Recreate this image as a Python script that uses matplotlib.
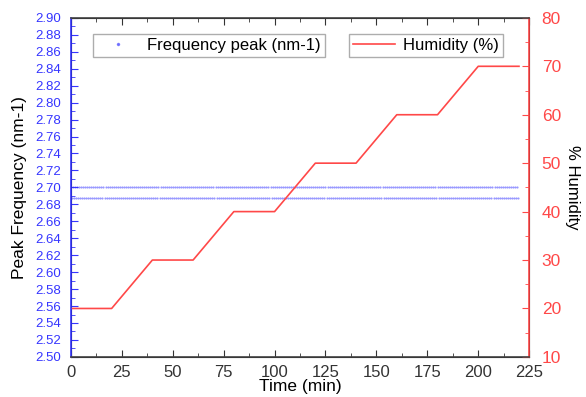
import matplotlib
matplotlib.use('Agg')
import matplotlib.pyplot as plt
import numpy as np
from matplotlib.ticker import MultipleLocator, FormatStrFormatter

# Humidity steps (min, %)
hum_time = [0, 20, 40, 60, 80, 100, 120, 140, 160, 180, 200, 220]
hum_val = [20, 20, 30, 30, 40, 40, 50, 50, 60, 60, 70, 70]

# Frequency peak sampled along the run, two levels it jumps between
peak_time = np.arange(0, 220, 1.0)
peak_upper = 2.700
peak_lower = 2.687

blue = '#3535ff'
red = '#ff4848'

plt.rcParams['font.family'] = ['Liberation Sans', 'DejaVu Sans']

fig = plt.figure(figsize=(5.86, 3.97), dpi=100)
ax = fig.add_axes([0.121, 0.101, 0.782, 0.854])
ax2 = ax.twinx()

f1 = ax.plot(peak_time, np.full(len(peak_time), peak_upper), linestyle='none',
             marker='.', markersize=1.0, color=blue, alpha=0.55,
             label='Frequency peak (nm-1)')
ax.plot(peak_time + 0.5, np.full(len(peak_time), peak_lower), linestyle='none',
        marker='.', markersize=1.0, color=blue, alpha=0.55)

h1 = ax2.plot(hum_time, hum_val, color=red, linewidth=1.2, label='Humidity (%)')

ax.set_xlim(0, 225)
ax.set_ylim(2.50, 2.90)
ax2.set_ylim(10, 80)

ax.xaxis.set_major_locator(MultipleLocator(25))
ax.xaxis.set_minor_locator(MultipleLocator(12.5))
ax.yaxis.set_major_locator(MultipleLocator(0.02))
ax.yaxis.set_minor_locator(MultipleLocator(0.01))
ax.yaxis.set_major_formatter(FormatStrFormatter('%.2f'))
ax2.yaxis.set_major_locator(MultipleLocator(10))
ax2.yaxis.set_minor_locator(MultipleLocator(5))

ax.tick_params(axis='x', which='both', direction='in', top=True, colors='#333333',
               labelsize=12, pad=6)
ax.tick_params(axis='x', which='major', length=5)
ax.tick_params(axis='x', which='minor', length=3)
ax.tick_params(axis='y', which='both', direction='in', colors=blue, labelsize=9.5, pad=7)
ax.tick_params(axis='y', which='major', length=5)
ax.tick_params(axis='y', which='minor', length=3)
ax2.tick_params(axis='y', which='both', direction='in', colors=red, labelsize=12.5, pad=9)
ax2.tick_params(axis='y', which='major', length=5)
ax2.tick_params(axis='y', which='minor', length=3)

ax2.spines['left'].set_color(blue)
ax2.spines['right'].set_color(red)
ax2.spines['top'].set_color('#444444')
ax2.spines['bottom'].set_color('#444444')
for sp in ax2.spines.values():
    sp.set_linewidth(1.2)

ax.set_xlabel('Time (min)', fontsize=12.5, labelpad=-1)
ax.set_ylabel('Peak Frequency (nm-1)', fontsize=12.5, labelpad=6)
ax2.set_ylabel('% Humidity', fontsize=12, rotation=270, labelpad=14)

leg1 = ax2.legend(handles=f1, loc='upper left', bbox_to_anchor=(0.048, 0.953),
                  borderaxespad=0, fancybox=False, edgecolor='#999999', fontsize=12,
                  markerscale=3, handlelength=2.5, borderpad=0.25, handletextpad=0.5)
ax2.add_artist(leg1)
ax2.legend(handles=h1, loc='upper left', bbox_to_anchor=(0.607, 0.953),
           borderaxespad=0, fancybox=False, edgecolor='#999999', fontsize=12,
           handlelength=2.5, borderpad=0.25, handletextpad=0.5)

fig.savefig('out.png', dpi=100)
